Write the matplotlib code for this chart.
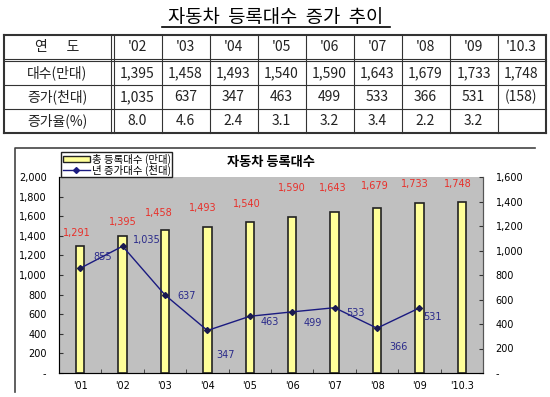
import matplotlib
matplotlib.use("Agg")
import matplotlib.pyplot as plt
import numpy as np
from matplotlib.patches import Patch
from matplotlib.lines import Line2D

plt.rcParams['font.family'] = ['Noto Sans CJK KR', 'DejaVu Sans']

# table data
tbl_years = ["'02", "'03", "'04", "'05", "'06", "'07", "'08", "'09", "'10.3"]
tbl_counts = ["1,395", "1,458", "1,493", "1,540", "1,590", "1,643", "1,679", "1,733", "1,748"]
tbl_incr = ["1,035", "637", "347", "463", "499", "533", "366", "531", "(158)"]
tbl_rate = ["8.0", "4.6", "2.4", "3.1", "3.2", "3.4", "2.2", "3.2", ""]
row_names = ["연      도", "대수(만대)", "증가(천대)", "증가율(%)"]

# chart data
years = ["'01", "'02", "'03", "'04", "'05", "'06", "'07", "'08", "'09", "'10.3"]
registered = [1291, 1395, 1458, 1493, 1540, 1590, 1643, 1679, 1733, 1748]
yearly_incr = [855, 1035, 637, 347, 463, 499, 533, 366, 531]

# label offsets in pixels (dx, dy up)
bar_lbl_off = [(-3, 8), (0, 9), (-6, 12), (-5, 14), (-3, 13), (0, 24), (-2, 19), (-2, 17), (-5, 14), (-4, 13)]
line_lbl_off = [(22, 11), (24, 6), (22, -1), (18, -25), (20, -6), (21, -11), (21, -5), (21, -19), (13, -9)]

fig = plt.figure(figsize=(5.5, 3.97), dpi=100)
bg = fig.add_axes([0, 0, 1, 1], zorder=0)
bg.set_xlim(0, 550)
bg.set_ylim(397, 0)
bg.axis('off')

# page title
bg.text(276, 17, "자동차  등록대수  증가  추이", fontsize=13.5, ha='center', va='center', color='black')
bg.plot([162, 390], [27, 27], color='black', lw=1.2)

# table grid
col_x = [3.5, 113.5] + [113.5 + 48 * (k + 1) for k in range(9)]
row_y = [35, 61, 85, 109, 133]
lc = '#333333'
for y in row_y:
    lw = 1.5 if y in (row_y[0], row_y[-1]) else 0.8
    bg.plot([col_x[0], col_x[-1]], [y, y], color=lc, lw=lw)
bg.plot([col_x[0], col_x[-1]], [row_y[1] - 2.5, row_y[1] - 2.5], color=lc, lw=0.8)
for i, x in enumerate(col_x):
    lw = 1.5 if i in (0, len(col_x) - 1) else 0.8
    bg.plot([x, x], [row_y[0], row_y[-1]], color=lc, lw=lw)
bg.plot([col_x[1] - 3, col_x[1] - 3], [row_y[0], row_y[-1]], color=lc, lw=0.8)

rows = [tbl_years, tbl_counts, tbl_incr, tbl_rate]
for r, vals in enumerate(rows):
    yc = (row_y[r] + row_y[r + 1]) / 2
    if r == 0:
        yc -= 1
    bg.text((col_x[0] + col_x[1] - 3) / 2, yc, row_names[r], fontsize=10, ha='center', va='center', color='#222222')
    for c, v in enumerate(vals):
        bg.text((col_x[c + 1] + col_x[c + 2]) / 2, yc, v, fontsize=10, ha='center', va='center', color='#222222')

# chart border
bg.plot([15, 15, 535], [392, 148, 148], color='#444444', lw=1.2)
bg.text(227, 162, "자동차 등록대수", fontsize=9.5, fontweight='bold', ha='left', va='center')

# chart
ax = fig.add_axes([59 / 550, (397 - 373) / 397, 424 / 550, 196 / 397], zorder=1)
ax.set_facecolor('#c0c0c0')
x = np.arange(len(years))
ax.bar(x, registered, width=0.2, color='#ffff99', edgecolor='#222222', linewidth=1.2, zorder=2)
ax.set_xlim(-0.5, len(years) - 0.5)
ax.set_ylim(0, 2000)
ax.set_yticks(np.arange(0, 2001, 200))
ax.set_yticklabels(['-'] + ['{:,}'.format(v) for v in range(200, 2001, 200)], fontsize=7, family='DejaVu Sans')
ax.set_xticks(x)
ax.set_xticklabels(years, fontsize=7, family='DejaVu Sans')
ax.set_xticks(np.arange(-0.5, len(years), 1), minor=True)
ax.tick_params(axis='x', which='major', length=0, pad=6)
ax.tick_params(axis='x', which='minor', direction='in', length=3, color='#333333')
ax.tick_params(axis='y', direction='in', length=3, pad=9, color='#333333')
for s in ['left', 'bottom', 'right']:
    ax.spines[s].set_color('#555555')
ax.spines['top'].set_visible(False)

for i, v in enumerate(registered):
    ax.annotate('{:,}'.format(v), (x[i], v), xytext=bar_lbl_off[i], textcoords='offset pixels',
                ha='center', va='bottom', fontsize=7, color='#e8302a', family='DejaVu Sans')

ax2 = ax.twinx()
ax2.set_ylim(0, 1600)
ax2.set_yticks(np.arange(0, 1601, 200))
ax2.set_yticklabels(['-'] + ['{:,}'.format(v) for v in range(200, 1601, 200)], fontsize=7, family='DejaVu Sans')
ax2.tick_params(axis='y', direction='in', length=3, pad=9, color='#333333')
ax2.spines['top'].set_visible(False)
ax2.spines['right'].set_color('#555555')
lx = x[:len(yearly_incr)]
ax2.plot(lx, yearly_incr, color='#1a1a80', lw=1, marker='D', markersize=3, markerfacecolor='#1a1a50',
         markeredgecolor='#1a1a50', zorder=3)
for i, v in enumerate(yearly_incr):
    ax2.annotate('{:,}'.format(v), (lx[i], v), xytext=line_lbl_off[i], textcoords='offset pixels',
                 ha='center', va='center', fontsize=7, color='#2a2a8a', family='DejaVu Sans')

handles = [Patch(facecolor='#ffff99', edgecolor='#222222', linewidth=1),
           Line2D([0], [0], color='#1a1a80', lw=1, marker='D', markersize=3)]
leg = fig.legend(handles, ["총 등록대수 (만대)", "년 증가대수 (천대)"], loc='upper left',
                 bbox_to_anchor=(61, 152), bbox_transform=bg.transData, fontsize=7.5,
                 frameon=True, fancybox=False, framealpha=1, edgecolor='#222222',
                 handlelength=2.6, handleheight=0.5, handletextpad=0.2, labelspacing=0.0,
                 borderpad=0.15, borderaxespad=0)
leg.get_frame().set_linewidth(1)
leg.set_zorder(5)

fig.savefig('out.png', dpi=100)
